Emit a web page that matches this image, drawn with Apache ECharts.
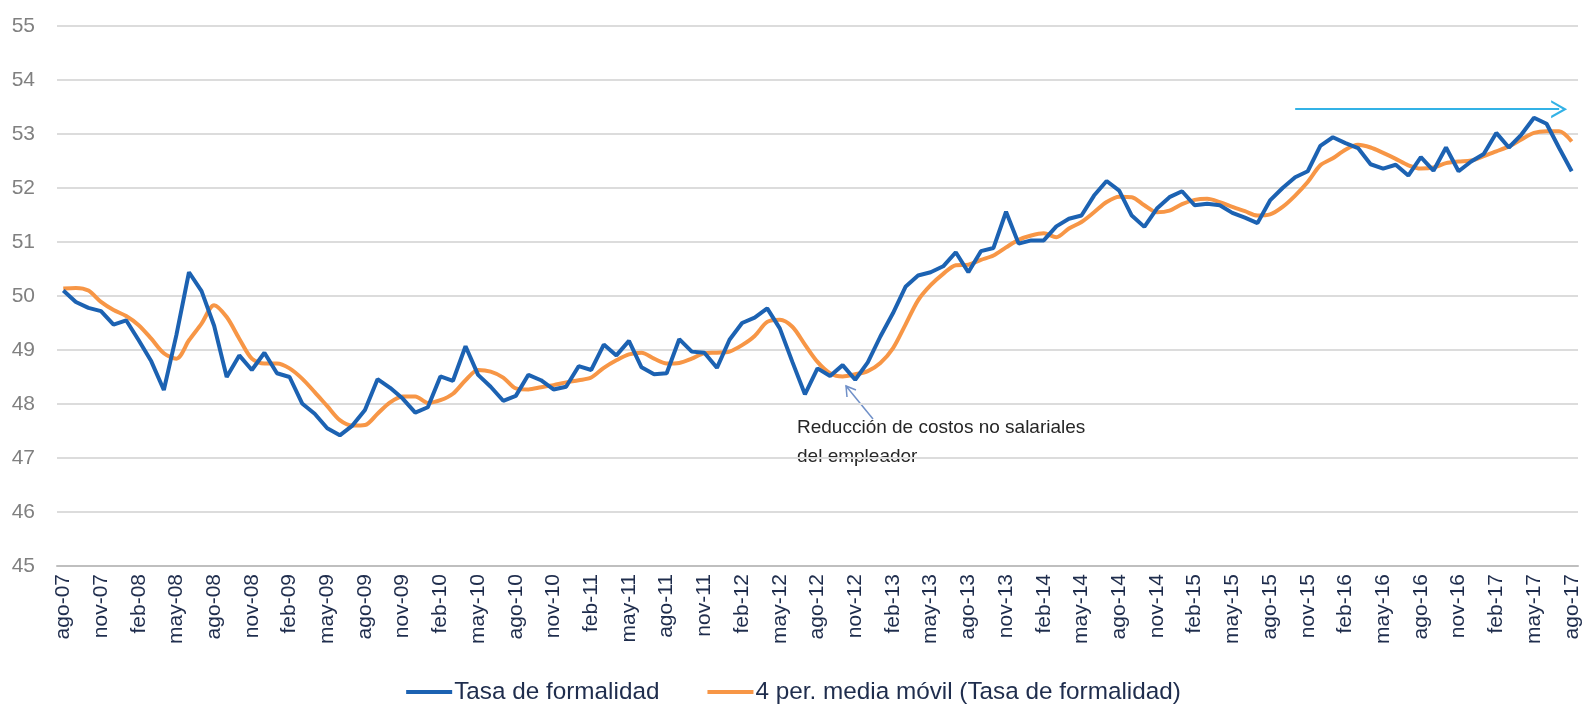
<!DOCTYPE html>
<html>
<head>
<meta charset="utf-8">
<script src="https://cdn.jsdelivr.net/npm/echarts@6/dist/echarts.min.js"></script>
<style>
  html, body { margin: 0; padding: 0; background: #fff; }
  #main { width: 1587px; height: 707px; }
</style>
</head>
<body>
<div id="main"></div>
<script>
// meses del eje (ago-07 ... ago-17)
var monthNames = ['ene', 'feb', 'mar', 'abr', 'may', 'jun', 'jul', 'ago', 'sep', 'oct', 'nov', 'dic'];
var categories = [];
for (var k = 0; k <= 120; k++) {
  var m = (7 + k) % 12;
  var y = 7 + Math.floor((7 + k) / 12);
  categories.push(monthNames[m] + '-' + (y < 10 ? '0' + y : '' + y));
}

// Tasa de formalidad (%)
var tasa = [
  50.10, 49.89, 49.78, 49.72, 49.47, 49.55, 49.18, 48.79, 48.26, 49.28,
  50.44, 50.09, 49.45, 48.50, 48.90, 48.63, 48.95, 48.57, 48.50, 48.01,
  47.82, 47.55, 47.42, 47.60, 47.89, 48.46, 48.30, 48.10, 47.84, 47.94,
  48.51, 48.43, 49.07, 48.54, 48.32, 48.06, 48.15, 48.54, 48.44, 48.27,
  48.32, 48.70, 48.63, 49.10, 48.90, 49.17, 48.68, 48.55, 48.57, 49.20,
  48.97, 48.95, 48.67, 49.19, 49.50, 49.60, 49.77, 49.40, 48.78, 48.18,
  48.66, 48.52, 48.72, 48.45, 48.77, 49.25, 49.68, 50.17, 50.38, 50.44,
  50.55, 50.81, 50.44, 50.83, 50.89, 51.56, 50.97, 51.03, 51.03, 51.29,
  51.43, 51.49, 51.86, 52.13, 51.95, 51.49, 51.28, 51.62, 51.83, 51.94,
  51.68, 51.71, 51.68, 51.54, 51.45, 51.35, 51.77, 52.00, 52.20, 52.31,
  52.78, 52.94, 52.83, 52.74, 52.44, 52.36, 52.43, 52.23, 52.57, 52.32,
  52.75, 52.31, 52.49, 52.63, 53.02, 52.75, 52.99, 53.30, 53.19, 52.74,
  52.31
];

// 4 per. media movil
var mediaMovil = [
  50.14, 50.15, 50.10, 49.89, 49.74, 49.63, 49.46, 49.21, 48.94, 48.84,
  49.18, 49.49, 49.83, 49.61, 49.21, 48.84, 48.75, 48.75, 48.66, 48.47,
  48.22, 47.96, 47.70, 47.60, 47.61, 47.82, 48.03, 48.14, 48.14, 48.02,
  48.07, 48.19, 48.44, 48.63, 48.60, 48.49, 48.29, 48.27, 48.31, 48.35,
  48.40, 48.44, 48.49, 48.67, 48.81, 48.92, 48.95, 48.84, 48.75, 48.76,
  48.84, 48.94, 48.95, 48.97, 49.09, 49.26, 49.52, 49.56, 49.43, 49.10,
  48.78, 48.57, 48.51, 48.55, 48.61, 48.76, 49.03, 49.47, 49.92, 50.20,
  50.41, 50.57, 50.58, 50.67, 50.75, 50.90, 51.04, 51.12, 51.16, 51.09,
  51.25, 51.37, 51.55, 51.74, 51.84, 51.83, 51.68, 51.55, 51.58, 51.70,
  51.78, 51.80, 51.74, 51.65, 51.57, 51.49, 51.51, 51.65, 51.86, 52.11,
  52.42, 52.55, 52.71, 52.80, 52.75, 52.65, 52.54, 52.42, 52.36, 52.38,
  52.46, 52.49, 52.51, 52.59, 52.68, 52.77, 52.90, 53.02, 53.05, 53.05,
  52.86
];

// flecha de tendencia (oct-15 -> jul-17)
var flechaDesde = 98, flechaHasta = 119, flechaNivel = 53.46;

var chart = echarts.init(document.getElementById('main'));

var option = {
  animation: false,
  backgroundColor: '#fff',
  grid: { left: 57, right: 9, top: 26, bottom: 141 },
  legend: {
    bottom: -2,
    left: 'center',
    itemWidth: 46,
    itemHeight: 14,
    itemGap: 48,
    icon: 'path://M0,5 L46,5 L46,9 L0,9 Z',
    textStyle: { fontFamily: 'Liberation Sans', fontSize: 24.3, color: '#1f2d4d', padding: [0, 0, 0, -3] },
    data: ['Tasa de formalidad', '4 per. media móvil (Tasa de formalidad)']
  },
  xAxis: {
    type: 'category',
    data: categories,
    boundaryGap: true,
    axisLine: { lineStyle: { color: '#bfbfbf', width: 2 } },
    axisTick: { interval: 2, length: 8, lineStyle: { color: '#bfbfbf', width: 2 } },
    axisLabel: {
      interval: 2,
      rotate: 90,
      margin: 8,
      fontFamily: 'Liberation Sans',
      fontSize: 21,
      color: '#1f2d4d'
    },
    splitLine: { show: false }
  },
  yAxis: {
    type: 'value',
    min: 45,
    max: 55,
    interval: 1,
    axisLine: { show: false },
    axisTick: { show: false },
    axisLabel: { margin: 22, fontFamily: 'Liberation Sans', fontSize: 21, color: '#808080' },
    splitLine: { lineStyle: { color: '#dcdcdc', width: 2 } }
  },
  series: [
    {
      name: 'Tasa de formalidad',
      type: 'line',
      data: tasa,
      symbol: 'none',
      z: 3,
      lineStyle: { color: '#1c62b2', width: 4 },
      itemStyle: { color: '#1c62b2' },
      markLine: {
        silent: true,
        symbol: ['none', 'path://M0,10 L6,0 L12,10 L10.4,10 L6,2.8 L1.6,10 Z'],
        symbolSize: [18, 16],
        label: { show: false },
        lineStyle: { color: '#33b2e6', width: 2, type: 'solid' },
        itemStyle: { color: '#33b2e6' },
        data: [[
          { coord: [flechaDesde, flechaNivel] },
          { coord: [flechaHasta, flechaNivel] }
        ]]
      }
    },
    {
      name: '4 per. media móvil (Tasa de formalidad)',
      type: 'line',
      data: mediaMovil,
      symbol: 'none',
      smooth: 0.3,
      z: 2,
      lineStyle: { color: '#f79646', width: 4 },
      itemStyle: { color: '#f79646' }
    }
  ],
  graphic: [
    {
      type: 'text',
      left: 797,
      top: 413,
      style: {
        text: 'Reducción de costos no salariales\ndel empleador',
        fontFamily: 'Liberation Sans',
        fontSize: 19,
        lineHeight: 29,
        fill: '#262626'
      }
    },
    {
      type: 'polyline',
      shape: { points: [[873, 419], [846, 386]] },
      style: { stroke: '#7090c8', lineWidth: 1.5, fill: null }
    },
    {
      type: 'polyline',
      shape: { points: [[847, 397], [846, 386], [856, 390]] },
      style: { stroke: '#7090c8', lineWidth: 1.5, fill: null }
    }
  ]
};

chart.setOption(option);
</script>
</body>
</html>
